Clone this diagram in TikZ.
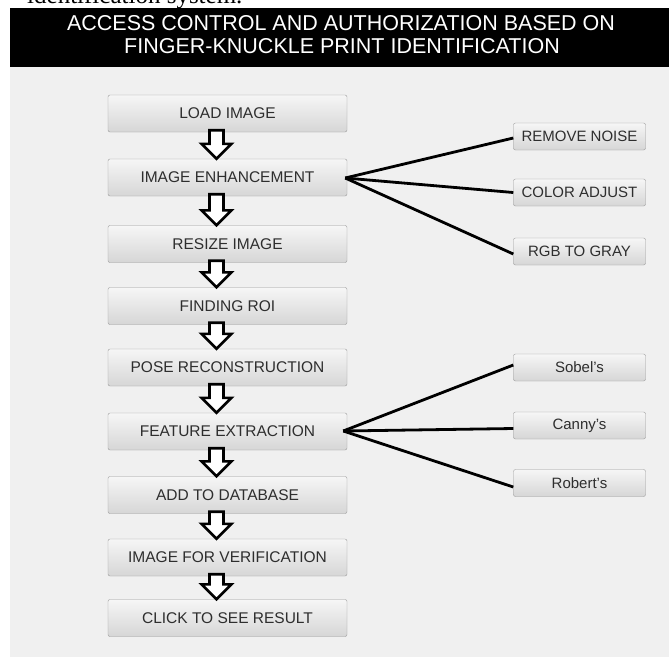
\documentclass[tikz,border=0pt]{standalone}
\usepackage{fontspec}
\setmainfont{Liberation Sans}
\newfontfamily\bookfont{Liberation Serif}
\usepackage{tikz}
\usetikzlibrary{positioning,calc,shapes.misc}
\definecolor{panel}{HTML}{F0F0F0}
\definecolor{btnedge}{HTML}{9A9A9A}
\definecolor{btntop}{HTML}{F6F6F6}
\definecolor{btnbot}{HTML}{D6D6D6}
\definecolor{btntext}{HTML}{2E2E2E}

% hollow down arrow between two stacked buttons
\newcommand\flowarrow[2]{%
  \draw[hollow] let \p1=(#1.south), \p2=(#2.north) in
    (\x1-18pt,\y1+2pt) -- (\x1-4pt,\y1+2pt) -- (\x1-4pt,\y2+15pt) -- (\x1+4pt,\y2+15pt)
    -- (\x1-11pt,\y2) -- (\x1-26pt,\y2+15pt) -- (\x1-18pt,\y2+15pt) -- cycle;}

\begin{document}
\begin{tikzpicture}[x=1pt, y=-1pt,
    button/.style={draw=btnedge, rounded corners=2pt, top color=btntop, bottom color=btnbot,
      text=btntext, inner sep=0pt},
    stepbtn/.style={button, minimum width=239pt, minimum height=37pt,
      font=\fontsize{15.5}{17}\selectfont},
    subbtn/.style={button, minimum width=132pt, minimum height=27pt,
      font=\fontsize{15}{17}\selectfont},
    heading/.style={text=white, anchor=base, inner sep=0pt, font=\fontsize{21.5}{24}\selectfont},
    hollow/.style={draw=black, fill=white, line width=2.6pt, line join=miter},
    branch/.style={draw=black, line width=2.8pt}]
    \useasboundingbox (0,0) rectangle (669,657);
    \fill[white] (0,0) rectangle (669,657);
    \node[anchor=base west, inner sep=0pt, font=\bookfont\fontsize{25}{25}\selectfont] (cap) at (27,3.5) {identification system.};
    \fill[panel] (10,67) rectangle (669,657);
    \fill[black] (10,8) rectangle (669,67);
    \node[heading] (title1) at (341,30) {ACCESS CONTROL AND AUTHORIZATION BASED ON};
    \node[heading] (title2) at (342,53) {FINGER-KNUCKLE PRINT IDENTIFICATION};

    % main steps
    \node[stepbtn] (load)   at (227.5,113.5) {LOAD IMAGE};
    \node[stepbtn] (enh)    at (227.5,177.5) {IMAGE ENHANCEMENT};
    \node[stepbtn] (resize) at (227.5,244)   {RESIZE IMAGE};
    \node[stepbtn] (roi)    at (227.5,306)   {FINDING ROI};
    \node[stepbtn] (pose)   at (227.5,367.5) {POSE RECONSTRUCTION};
    \node[stepbtn] (feat)   at (227.5,431.5) {FEATURE EXTRACTION};
    \node[stepbtn] (db)     at (227.5,495)   {ADD TO DATABASE};
    \node[stepbtn] (verif)  at (227.5,557.5) {IMAGE FOR VERIFICATION};
    \node[stepbtn] (result) at (227.5,618)   {CLICK TO SEE RESULT};

    \flowarrow{load}{enh}
    \flowarrow{enh}{resize}
    \flowarrow{resize}{roi}
    \flowarrow{roi}{pose}
    \flowarrow{pose}{feat}
    \flowarrow{feat}{db}
    \flowarrow{db}{verif}
    \flowarrow{verif}{result}

    % enhancement options
    \node[subbtn] (noise) at (579.5,136.5) {REMOVE NOISE};
    \node[subbtn] (color) at (579.5,192.5) {COLOR ADJUST};
    \node[subbtn] (gray)  at (579.5,251.5) {RGB TO GRAY};
    \coordinate (enhout) at ($(enh.east)+(-2,0.5)$);
    \draw[branch] (enhout) -- ([yshift=-1.5pt]noise.west);
    \draw[branch] (enhout) -- (color.west);
    \draw[branch] (enhout) -- ([yshift=-2.5pt]gray.west);

    % edge detectors
    \node[subbtn] (sobel)  at (579.5,367.5) {Sobel's};
    \node[subbtn] (canny)  at (579.5,425.5) {Canny's};
    \node[subbtn] (robert) at (579.5,483)   {Robert's};
    \coordinate (featout) at ($(feat.east)+(-4,-0.5)$);
    \draw[branch] (featout) -- ([yshift=2.5pt]sobel.west);
    \draw[branch] (featout) -- ([yshift=-3pt]canny.west);
    \draw[branch] (featout) -- ([yshift=-4pt]robert.west);
\end{tikzpicture}
\end{document}
